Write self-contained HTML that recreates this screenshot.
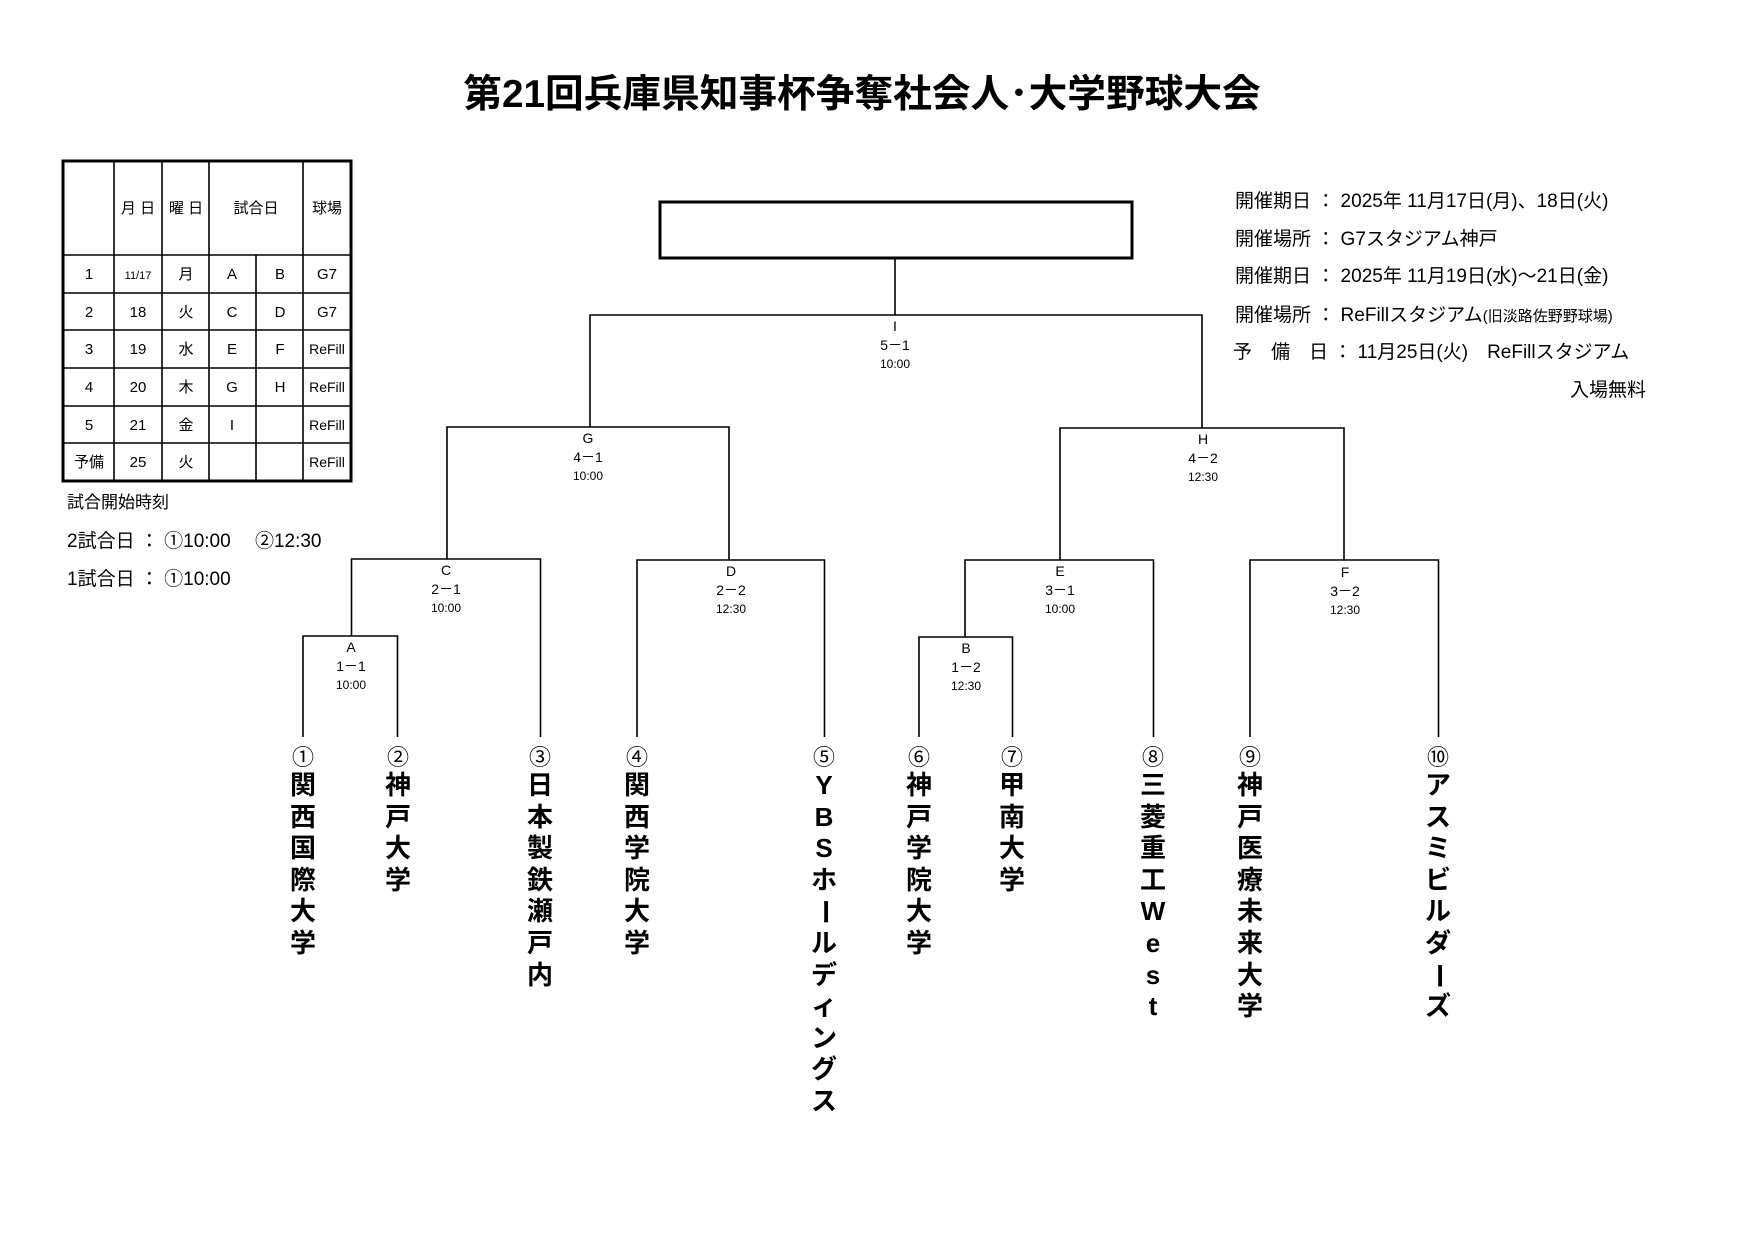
<!DOCTYPE html>
<html><head><meta charset="utf-8"><style>
body{margin:0;background:#fff;}
#p{position:relative;width:1754px;height:1240px;overflow:hidden;background:#fff;font-family:"Liberation Sans","Noto Sans CJK JP",sans-serif;color:#000;}
.t{position:absolute;white-space:nowrap;}
.v{position:absolute;width:36px;font-size:26px;font-weight:bold;font-family:"Liberation Sans","Noto Sans CJK JP",sans-serif;}
.v div{height:31.6px;line-height:31.6px;text-align:center;}
.v .r{transform:rotate(90deg);}
.c{position:absolute;width:40px;text-align:center;font-size:22px;line-height:24px;}
</style></head><body><div id="p">
<svg width="1754" height="1240" style="position:absolute;left:0;top:0" font-family="Liberation Sans, Noto Sans CJK JP, sans-serif">
<g stroke="#000" stroke-width="1.6" fill="none">
<rect x="660" y="202" width="472" height="56" stroke-width="3"/>
<line x1="895" y1="258" x2="895" y2="315"/>
<polyline points="590,427 590,315 1202,315 1202,428"/>
<polyline points="447,559 447,427 729,427 729,560"/>
<polyline points="1060,560 1060,428 1344,428 1344,560"/>
<polyline points="351.5,636 351.5,559 540.5,559 540.5,737"/>
<polyline points="637,737 637,560 824.5,560 824.5,737"/>
<polyline points="965,637 965,560 1153.5,560 1153.5,737"/>
<polyline points="1250,737 1250,560 1438.5,560 1438.5,737"/>
<polyline points="303,737 303,636 397.5,636 397.5,737"/>
<polyline points="919,737 919,637 1012.5,637 1012.5,737"/>
<rect x="63" y="161" width="288" height="320" stroke-width="3"/>
<line x1="63" y1="255" x2="351" y2="255"/>
<line x1="63" y1="293" x2="351" y2="293"/>
<line x1="63" y1="330" x2="351" y2="330"/>
<line x1="63" y1="368" x2="351" y2="368"/>
<line x1="63" y1="406" x2="351" y2="406"/>
<line x1="63" y1="443" x2="351" y2="443"/>
<line x1="114" y1="161" x2="114" y2="481"/>
<line x1="162" y1="161" x2="162" y2="481"/>
<line x1="209" y1="161" x2="209" y2="481"/>
<line x1="256" y1="255" x2="256" y2="481"/>
<line x1="303" y1="161" x2="303" y2="481"/>
</g>
<g font-size="15" text-anchor="middle">
<text x="138" y="213">月 日</text><text x="186" y="213">曜 日</text><text x="256" y="213">試合日</text><text x="327" y="213">球場</text>
<text x="89" y="279">1</text><text x="138" y="279" font-size="11">11/17</text><text x="186" y="279">月</text><text x="232" y="279">A</text><text x="280" y="279">B</text><text x="327" y="279">G7</text>
<text x="89" y="317">2</text><text x="138" y="317">18</text><text x="186" y="317">火</text><text x="232" y="317">C</text><text x="280" y="317">D</text><text x="327" y="317">G7</text>
<text x="89" y="354">3</text><text x="138" y="354">19</text><text x="186" y="354">水</text><text x="232" y="354">E</text><text x="280" y="354">F</text><text x="327" y="354" font-size="14">ReFill</text>
<text x="89" y="392">4</text><text x="138" y="392">20</text><text x="186" y="392">木</text><text x="232" y="392">G</text><text x="280" y="392">H</text><text x="327" y="392" font-size="14">ReFill</text>
<text x="89" y="430">5</text><text x="138" y="430">21</text><text x="186" y="430">金</text><text x="232" y="430">I</text><text x="327" y="430" font-size="14">ReFill</text>
<text x="89" y="467">予備</text><text x="138" y="467">25</text><text x="186" y="467">火</text><text x="327" y="467" font-size="14">ReFill</text>
</g>
<g text-anchor="middle">
<g font-size="14"><text x="895" y="331">I</text><text x="895" y="350">5－1</text><text x="895" y="368" font-size="12">10:00</text></g>
<g font-size="14"><text x="588" y="443">G</text><text x="588" y="462">4－1</text><text x="588" y="480" font-size="12">10:00</text></g>
<g font-size="14"><text x="1203" y="444">H</text><text x="1203" y="463">4－2</text><text x="1203" y="481" font-size="12">12:30</text></g>
<g font-size="14"><text x="446" y="575">C</text><text x="446" y="594">2－1</text><text x="446" y="612" font-size="12">10:00</text></g>
<g font-size="14"><text x="731" y="576">D</text><text x="731" y="595">2－2</text><text x="731" y="613" font-size="12">12:30</text></g>
<g font-size="14"><text x="1060" y="576">E</text><text x="1060" y="595">3－1</text><text x="1060" y="613" font-size="12">10:00</text></g>
<g font-size="14"><text x="1345" y="577">F</text><text x="1345" y="596">3－2</text><text x="1345" y="614" font-size="12">12:30</text></g>
<g font-size="14"><text x="351" y="652">A</text><text x="351" y="671">1－1</text><text x="351" y="689" font-size="12">10:00</text></g>
<g font-size="14"><text x="966" y="653">B</text><text x="966" y="672">1－2</text><text x="966" y="690" font-size="12">12:30</text></g>
</g>
</svg>
<div class="t" style="left:0;width:1724px;text-align:center;top:63px;font-size:38.7px;font-weight:bold;">第21回兵庫県知事杯争奪社会人･大学野球大会</div>
<div class="t" style="left:67px;top:488px;font-size:17px;">試合開始時刻</div>
<div class="t" style="left:67px;top:526px;font-size:19px;">2試合日 ： ①10:00　 ②12:30</div>
<div class="t" style="left:67px;top:564px;font-size:19px;">1試合日 ： ①10:00</div>
<div class="t" style="left:1235px;top:191px;font-size:19px;line-height:22px;">開催期日 ： 2025年 11月17日(月)、18日(火)</div>
<div class="t" style="left:1235px;top:229px;font-size:19px;line-height:22px;">開催場所 ： G7スタジアム神戸</div>
<div class="t" style="left:1235px;top:266px;font-size:19px;line-height:22px;">開催期日 ： 2025年 11月19日(水)～21日(金)</div>
<div class="t" style="left:1235px;top:305px;font-size:19px;line-height:22px;">開催場所 ： ReFillスタジアム<span style="font-size:15px">(旧淡路佐野野球場)</span></div>
<div class="t" style="left:1233px;top:342px;font-size:19px;line-height:22px;">予　備　日 ： 11月25日(火)　ReFillスタジアム</div>
<div class="t" style="left:1546px;width:100px;text-align:right;top:380px;font-size:19px;line-height:22px;">入場無料</div>

<div class="c" style="left:283px;top:746px">①</div>
<div class="v" style="left:285px;top:770px"><div>関</div><div>西</div><div>国</div><div>際</div><div>大</div><div>学</div></div>
<div class="c" style="left:378px;top:746px">②</div>
<div class="v" style="left:380px;top:770px"><div>神</div><div>戸</div><div>大</div><div>学</div></div>
<div class="c" style="left:520px;top:746px">③</div>
<div class="v" style="left:522px;top:770px"><div>日</div><div>本</div><div>製</div><div>鉄</div><div>瀬</div><div>戸</div><div>内</div></div>
<div class="c" style="left:617px;top:746px">④</div>
<div class="v" style="left:619px;top:770px"><div>関</div><div>西</div><div>学</div><div>院</div><div>大</div><div>学</div></div>
<div class="c" style="left:804px;top:746px">⑤</div>
<div class="v" style="left:806px;top:770px"><div>Y</div><div>B</div><div>S</div><div>ホ</div><div class="r">ー</div><div>ル</div><div>デ</div><div>ィ</div><div>ン</div><div>グ</div><div>ス</div></div>
<div class="c" style="left:899px;top:746px">⑥</div>
<div class="v" style="left:901px;top:770px"><div>神</div><div>戸</div><div>学</div><div>院</div><div>大</div><div>学</div></div>
<div class="c" style="left:992px;top:746px">⑦</div>
<div class="v" style="left:994px;top:770px"><div>甲</div><div>南</div><div>大</div><div>学</div></div>
<div class="c" style="left:1133px;top:746px">⑧</div>
<div class="v" style="left:1135px;top:770px"><div>三</div><div>菱</div><div>重</div><div>工</div><div>W</div><div>e</div><div>s</div><div>t</div></div>
<div class="c" style="left:1230px;top:746px">⑨</div>
<div class="v" style="left:1232px;top:770px"><div>神</div><div>戸</div><div>医</div><div>療</div><div>未</div><div>来</div><div>大</div><div>学</div></div>
<div class="c" style="left:1418px;top:746px">⑩</div>
<div class="v" style="left:1420px;top:770px"><div>ア</div><div>ス</div><div>ミ</div><div>ビ</div><div>ル</div><div>ダ</div><div class="r">ー</div><div>ズ</div></div>
</div></body></html>
